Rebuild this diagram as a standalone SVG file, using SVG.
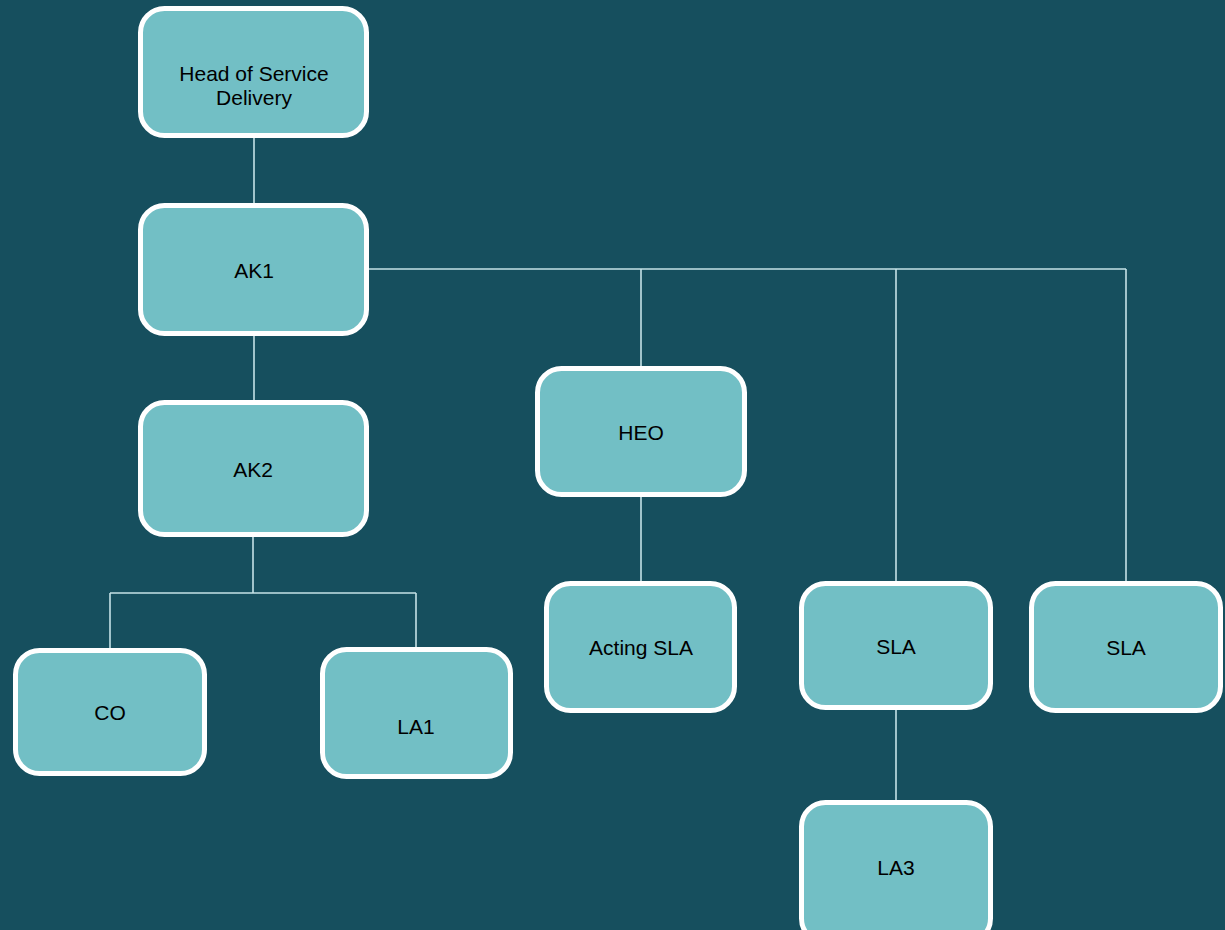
<svg xmlns="http://www.w3.org/2000/svg" width="1225" height="930" viewBox="0 0 1225 930">
<style>
.bg{fill:#164f5e}
.box{fill:#72bfc5;stroke:#ffffff;stroke-width:5}
.lbl{font-family:"Liberation Sans",Arial,sans-serif;font-size:21px;fill:#000000;text-anchor:middle}
.conn{fill:none;stroke:#c5e2e6;stroke-width:1.6}
</style>
<rect class="bg" x="0" y="0" width="1225" height="930"/>
<g id="connectors">
<path class="conn" d="M254 138 V203"/>
<path class="conn" d="M254 336 V400"/>
<path class="conn" d="M369 269 H1126 M641 269 V366 M896 269 V581 M1126 269 V581"/>
<path class="conn" d="M253 537 V593 M110 593 H416 M110 593 V648 M416 593 V647"/>
<path class="conn" d="M641 497 V581"/>
<path class="conn" d="M896 710 V800"/>
</g>
<g id="head"><rect class="box" x="140.5" y="8.5" width="226" height="127" rx="24"/><text class="lbl" x="254" y="81">Head of Service</text><text class="lbl" x="254" y="105">Delivery</text></g>
<g id="ak1"><rect class="box" x="140.5" y="205.5" width="226" height="128" rx="24"/><text class="lbl" x="254" y="278">AK1</text></g>
<g id="ak2"><rect class="box" x="140.5" y="402.5" width="226" height="132" rx="24"/><text class="lbl" x="253" y="477">AK2</text></g>
<g id="co"><rect class="box" x="15.5" y="650.5" width="189" height="123" rx="24"/><text class="lbl" x="110" y="720">CO</text></g>
<g id="la1"><rect class="box" x="322.5" y="649.5" width="188" height="127" rx="24"/><text class="lbl" x="416" y="734">LA1</text></g>
<g id="heo"><rect class="box" x="537.5" y="368.5" width="207" height="126" rx="24"/><text class="lbl" x="641" y="440">HEO</text></g>
<g id="acting-sla"><rect class="box" x="546.5" y="583.5" width="188" height="127" rx="24"/><text class="lbl" x="641" y="655">Acting SLA</text></g>
<g id="sla1"><rect class="box" x="801.5" y="583.5" width="189" height="124" rx="24"/><text class="lbl" x="896" y="654">SLA</text></g>
<g id="sla2"><rect class="box" x="1031.5" y="583.5" width="189" height="127" rx="24"/><text class="lbl" x="1126" y="655">SLA</text></g>
<g id="la3"><rect class="box" x="801.5" y="802.5" width="189" height="140" rx="24"/><text class="lbl" x="896" y="875">LA3</text></g>
</svg>
